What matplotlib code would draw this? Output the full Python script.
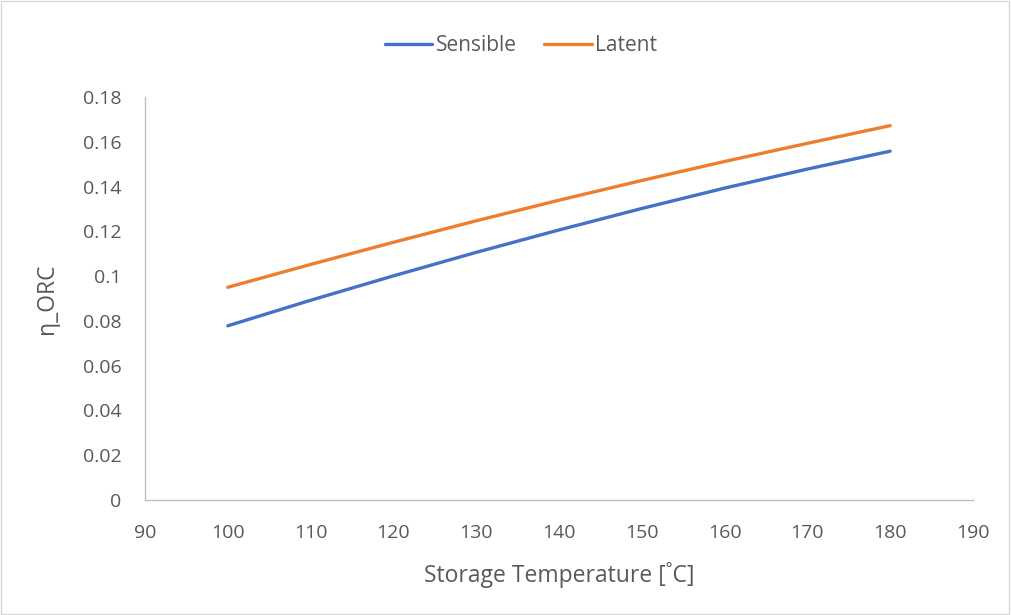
import matplotlib
matplotlib.use("Agg")
import matplotlib.pyplot as plt
from matplotlib.patches import Rectangle

# Storage temperature [°C] and ORC efficiency for each storage concept
temperature = [100, 110, 120, 130, 140, 150, 160, 170, 180]
sensible = [0.0778, 0.0892, 0.1001, 0.1106, 0.1206, 0.1302, 0.1393, 0.1478, 0.1558]
latent = [0.0950, 0.1052, 0.1151, 0.1247, 0.1339, 0.1427, 0.1512, 0.1593, 0.1672]

x_ticks = [90, 100, 110, 120, 130, 140, 150, 160, 170, 180, 190]
y_ticks = [0, 0.02, 0.04, 0.06, 0.08, 0.1, 0.12, 0.14, 0.16, 0.18]
y_tick_labels = ["0", "0.02", "0.04", "0.06", "0.08", "0.1", "0.12", "0.14", "0.16", "0.18"]

plt.rcParams["font.family"] = ["Open Sans", "DejaVu Sans"]
TEXT = "#595959"
AXIS = "#BFBFBF"

fig = plt.figure(figsize=(10.11, 6.15), dpi=100)
fig.patch.set_facecolor("white")
fig.patches.append(Rectangle((0.001, 0.002), 0.997, 0.996, transform=fig.transFigure,
                             fill=False, edgecolor="#D9D9D9", linewidth=1.0))

ax = fig.add_axes([0.1434, 0.187, 0.819, 0.6553])
ax.plot(temperature, sensible, color="#4472C4", lw=2.4, solid_capstyle="round", label="Sensible")
ax.plot(temperature, latent, color="#ED7D31", lw=2.4, solid_capstyle="round", label="Latent")

ax.set_xlim(90, 190)
ax.set_ylim(0, 0.18)
ax.set_xticks(x_ticks)
ax.set_yticks(y_ticks)
ax.set_yticklabels(y_tick_labels)
ax.tick_params(axis="both", length=0, labelsize=14, labelcolor=TEXT)
ax.tick_params(axis="x", pad=17)
ax.tick_params(axis="y", pad=17)

for side in ("top", "right"):
    ax.spines[side].set_visible(False)
for side in ("left", "bottom"):
    ax.spines[side].set_color(AXIS)
    ax.spines[side].set_linewidth(1.0)

ax.set_xlabel("Storage Temperature [˚C]", fontsize=16.5, color=TEXT, labelpad=15)
ax.set_ylabel("η_ORC", fontsize=16.5, color=TEXT, labelpad=17)

leg = fig.legend(loc="center", bbox_to_anchor=(0.515, 0.926), ncol=2, frameon=False,
                 fontsize=15, handlelength=2.3, handletextpad=0.15, columnspacing=1.3)
for t in leg.get_texts():
    t.set_color(TEXT)

fig.savefig("out.png", dpi=100, facecolor="white")
